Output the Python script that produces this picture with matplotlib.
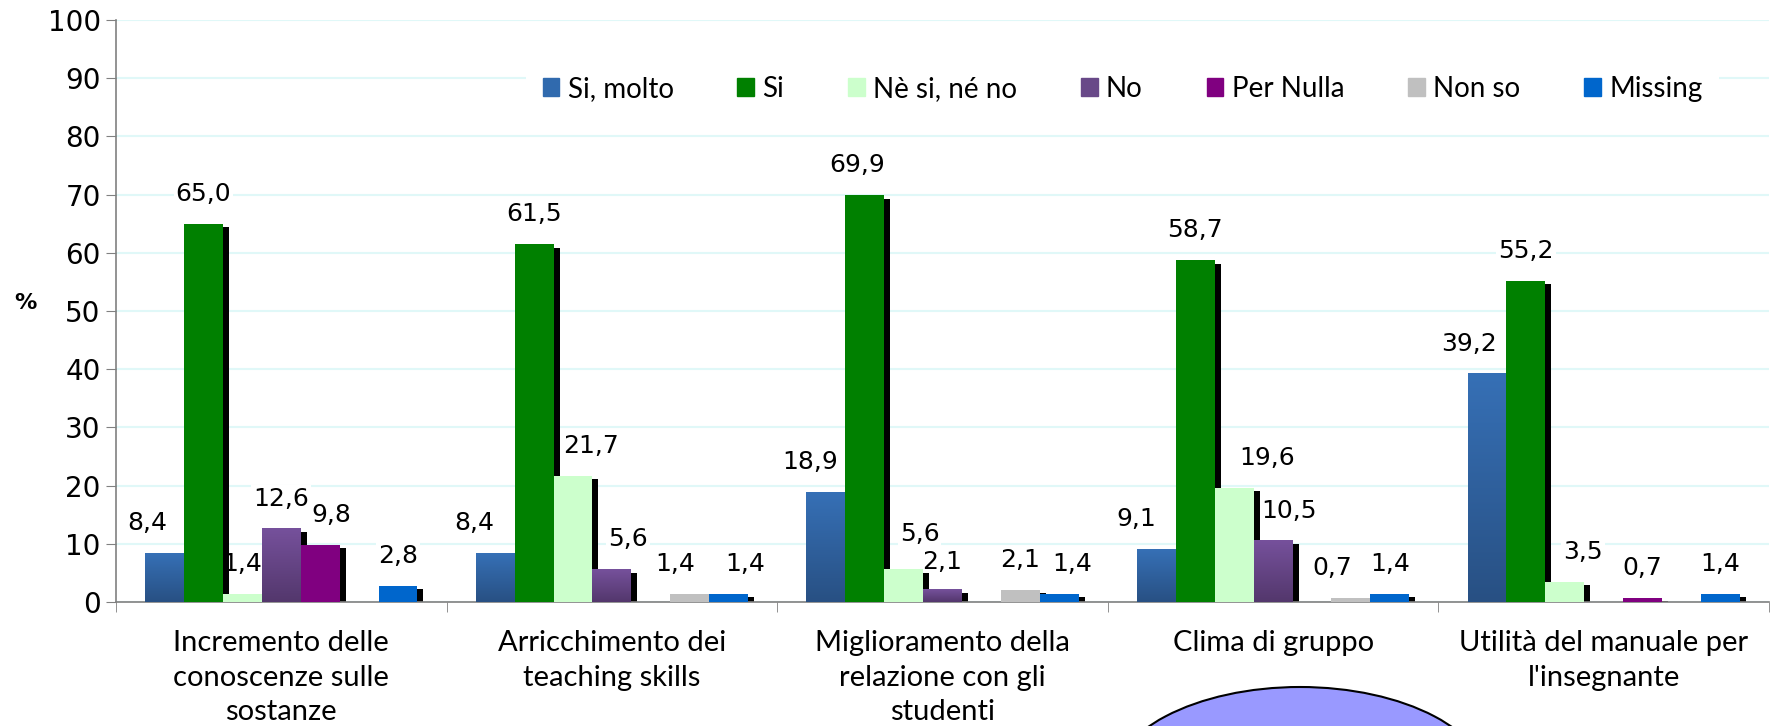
import numpy as np
import matplotlib
matplotlib.use('Agg')
import matplotlib.pyplot as plt
from matplotlib.patches import Ellipse, Patch
from matplotlib.colors import LinearSegmentedColormap

categories = ['Incremento delle\nconoscenze sulle\nsostanze',
              'Arricchimento dei\nteaching skills',
              'Miglioramento della\nrelazione con gli\nstudenti',
              'Clima di gruppo',
              'Utilità del manuale per\nl\'insegnante']
series = ['Si, molto', 'Si', 'Nè si, né no', 'No', 'Per Nulla', 'Non so', 'Missing']
si_molto = [8.4, 8.4, 18.9, 9.1, 39.2]
si = [65.0, 61.5, 69.9, 58.7, 55.2]
ne_si_ne_no = [1.4, 21.7, 5.6, 19.6, 3.5]
no = [12.6, 5.6, 2.1, 10.5, 0]
per_nulla = [9.8, 0, 0, 0, 0.7]
non_so = [0, 1.4, 2.1, 0.7, 0]
missing = [2.8, 1.4, 1.4, 1.4, 1.4]
values = [si_molto, si, ne_si_ne_no, no, per_nulla, non_so, missing]

colors = ['#306AAE', '#008000', '#CCFFCC', '#684888', '#800080', '#C0C0C0', '#0066CC']
# vertical gradients (top, bottom) for the shaded series
gradients = {0: ('#3670B6', '#285083'), 3: ('#76519C', '#53376C')}

# nudges of the data labels (pixels), as placed in the original
label_dx = [[-17, -21, -16, -20, -18],
            [0, 0, -8, 0, 0],
            [0, 18, 16, 33, 18],
            [0, 16, 0, 16, 0],
            [11, 0, 0, 0, 0],
            [0, -15, 0, -19, 0],
            [0, 17, 13, 0, 0]]
label_dy = {(2, 2): 5, (3, 2): -2}

fig = plt.figure(figsize=(17.72, 7.26), dpi=100)
ax = fig.add_axes([116/1772, 1-602/726, (1769-116)/1772, (602-20)/726])

w = 1/8.5
x = np.arange(len(categories))
dx = 6/330.6
dy = 0.6

for i, vals in enumerate(values):
    pos = x + (i - 3)*w
    vals = np.array(vals, dtype=float)
    # shadows
    ax.bar(pos + dx, np.clip(vals - dy, 0, None), width=w, color='black', zorder=2)
    if i in gradients:
        cmap = LinearSegmentedColormap.from_list('g', [gradients[i][1], gradients[i][0]])
        grad = np.linspace(0, 1, 256).reshape(-1, 1)
        for p, v in zip(pos, vals):
            if v > 0:
                ax.imshow(grad, cmap=cmap, origin='lower', aspect='auto',
                          extent=[p - w/2, p + w/2, 0, v], zorder=3)
    else:
        ax.bar(pos, vals, width=w, color=colors[i], zorder=3)
    for j, (p, v) in enumerate(zip(pos, vals)):
        if v > 0:
            off_y = 30 + label_dy.get((i, j), 0)
            ax.annotate(f'{v:.1f}'.replace('.', ','), (p, v),
                        xytext=(label_dx[i][j]*0.72, off_y*0.72),
                        textcoords='offset points', ha='center', va='center',
                        fontsize=18, family='DejaVu Sans', zorder=1,
                        bbox=dict(boxstyle='square,pad=0.08', fc='white', ec='none'))

ax.set_xlim(-0.5, len(categories) - 0.5)
ax.set_ylim(0, 100)
ax.set_yticks(range(0, 101, 10))
ax.yaxis.grid(True, color='#E0F8F8', lw=1.5, zorder=0)
ax.set_axisbelow(True)
ax.tick_params(axis='y', labelsize=20, length=7, color='#808080', pad=4)
ax.set_xticks(x)
ax.set_xticklabels(categories, fontsize=21, family='Lato', linespacing=1.42)
ax.set_xticks(np.arange(-0.5, len(categories)), minor=True)
ax.tick_params(axis='x', which='major', length=0, pad=20)
ax.tick_params(axis='x', which='minor', length=7, color='#808080')
for s in ['top', 'right']:
    ax.spines[s].set_visible(False)
for s in ['left', 'bottom']:
    ax.spines[s].set_color('#808080')
    ax.spines[s].set_linewidth(1.2)

handles = [Patch(color=c) for c in colors]
leg = ax.legend(handles, series, ncol=7, loc='center left',
                bbox_to_anchor=((512-116)/1653, (602-89)/582),
                prop={'family': 'Lato', 'size': 20}, frameon=True,
                handlelength=0.6, handleheight=0.6, handletextpad=0.3,
                columnspacing=2.3, borderpad=0.6)
leg.get_frame().set_facecolor('white')
leg.get_frame().set_edgecolor('none')
leg.get_frame().set_alpha(1)
leg.set_zorder(5)

fig.text(25/1772, 1-303/726, '%', fontsize=16, fontweight='bold',
         ha='center', va='center')

fig.add_artist(Ellipse((1300/1772, (726-787)/726), 380/1772, 200/726,
                       transform=fig.transFigure, facecolor='#9999FF',
                       edgecolor='black', lw=1.5, clip_on=False))

fig.savefig('out.png', dpi=100)
